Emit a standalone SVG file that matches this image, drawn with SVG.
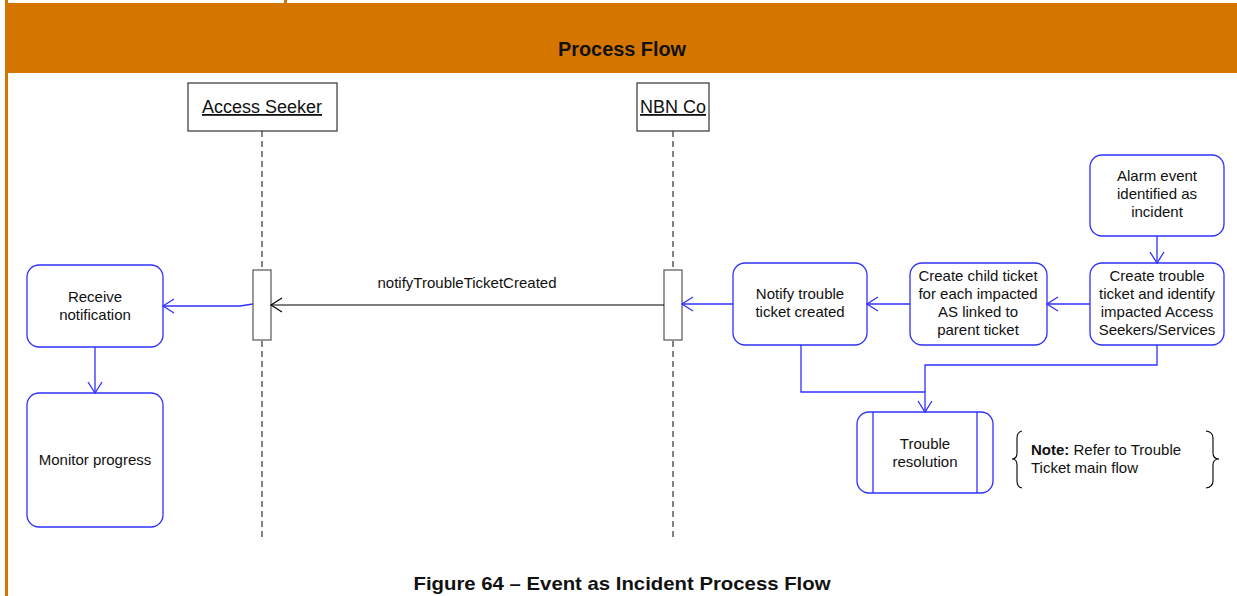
<svg xmlns="http://www.w3.org/2000/svg" width="1237" height="596" viewBox="0 0 1237 596">
<defs>
<style>
.orange{fill:#d47500}
.node{fill:#fff;stroke:#3030ff;stroke-width:1.3}
.life{fill:#fff;stroke:#333;stroke-width:1.2}
.act{fill:#fff;stroke:#555;stroke-width:1.2}
.dash{stroke:#333;stroke-width:1.2;stroke-dasharray:6,4;fill:none}
.conn{fill:none;stroke:#3030ff;stroke-width:1.3}
.msg{fill:none;stroke:#000;stroke-width:1.2}
.brace{fill:none;stroke:#000;stroke-width:1.1}
text{font-family:"Liberation Sans",Arial,sans-serif;fill:#111}
.t{font-size:15px;text-anchor:middle}
.hdr{font-size:18px;text-anchor:middle;text-decoration:underline}
.bold{font-weight:bold}
</style>
<marker id="ab" markerUnits="userSpaceOnUse" markerWidth="14" markerHeight="16" refX="12" refY="8" orient="auto">
<path d="M1,1 L12,8 L1,15" fill="none" stroke="#3030ff" stroke-width="1.3"/>
</marker>
<marker id="ak" markerUnits="userSpaceOnUse" markerWidth="14" markerHeight="16" refX="12" refY="8" orient="auto">
<path d="M1,1 L12,8 L1,15" fill="none" stroke="#000" stroke-width="1.2"/>
</marker>
</defs>
<rect width="1237" height="596" fill="#fff"/>
<g id="frame">
<rect class="orange" x="5" y="0" width="3" height="596"/>
<rect class="orange" x="284" y="0" width="3" height="4"/>
<rect class="orange" x="5" y="3" width="1232" height="70"/>
<text x="622" y="56" class="bold" font-size="20" text-anchor="middle" textLength="128" lengthAdjust="spacingAndGlyphs" fill="#000">Process Flow</text>
<text x="622" y="590" class="bold" font-size="19" text-anchor="middle" textLength="417" lengthAdjust="spacingAndGlyphs" fill="#000">Figure 64 – Event as Incident Process Flow</text>
</g>
<g id="lifeline-as">
<rect class="life" x="188" y="83" width="149" height="48"/>
<text class="hdr" x="262" y="113">Access Seeker</text>
<line class="dash" x1="262" y1="131" x2="262" y2="540"/>
<rect class="act" x="253" y="270" width="18" height="70"/>
</g>
<g id="lifeline-nbn">
<rect class="life" x="637" y="83" width="72" height="48"/>
<text class="hdr" x="673" y="113">NBN Co</text>
<line class="dash" x1="673" y1="131" x2="673" y2="540"/>
<rect class="act" x="664" y="270" width="18" height="70"/>
</g>
<g id="n-receive">
<rect class="node" x="27" y="265" width="136" height="82" rx="12"/>
<text class="t" x="95" y="302">Receive</text>
<text class="t" x="95" y="320">notification</text>
</g>
<g id="n-monitor">
<rect class="node" x="27" y="393" width="136" height="134" rx="12"/>
<text class="t" x="95" y="465">Monitor progress</text>
</g>
<g id="n-notify">
<rect class="node" x="733" y="263" width="134" height="82" rx="12"/>
<text class="t" x="800" y="299">Notify trouble</text>
<text class="t" x="800" y="317">ticket created</text>
</g>
<g id="n-child">
<rect class="node" x="910" y="263" width="137" height="82" rx="12"/>
<text class="t" x="978" y="281">Create child ticket</text>
<text class="t" x="978" y="299">for each impacted</text>
<text class="t" x="978" y="317">AS linked to</text>
<text class="t" x="978" y="335">parent ticket</text>
</g>
<g id="n-create">
<rect class="node" x="1090" y="263" width="134" height="82" rx="12"/>
<text class="t" x="1157" y="281">Create trouble</text>
<text class="t" x="1157" y="299">ticket and identify</text>
<text class="t" x="1157" y="317">impacted Access</text>
<text class="t" x="1157" y="335">Seekers/Services</text>
</g>
<g id="n-alarm">
<rect class="node" x="1090" y="155" width="134" height="81" rx="12"/>
<text class="t" x="1157" y="181">Alarm event</text>
<text class="t" x="1157" y="199">identified as</text>
<text class="t" x="1157" y="217">incident</text>
</g>
<g id="n-resolution">
<rect class="node" x="857" y="412" width="136" height="81" rx="12"/>
<line class="conn" x1="873" y1="412" x2="873" y2="493"/>
<line class="conn" x1="977" y1="412" x2="977" y2="493"/>
<text class="t" x="925" y="449">Trouble</text>
<text class="t" x="925" y="467">resolution</text>
</g>
<g id="note">
<path class="brace" d="M1022,431 Q1017,432 1017,438 L1017,453 Q1017,459 1012,459 Q1017,459 1017,465 L1017,481 Q1017,487 1022,488"/>
<path class="brace" d="M1206,431 Q1213,432 1213,438 L1213,453 Q1213,459 1219,459 Q1213,459 1213,465 L1213,481 Q1213,487 1206,488"/>
<text x="1031" y="455" font-size="15"><tspan font-weight="bold">Note:</tspan> Refer to Trouble</text>
<text x="1031" y="473" font-size="15">Ticket main flow</text>
</g>
<g id="connectors">
<line class="conn" x1="1157" y1="236" x2="1157" y2="263" marker-end="url(#ab)"/>
<line class="conn" x1="1090" y1="304" x2="1047" y2="304" marker-end="url(#ab)"/>
<line class="conn" x1="910" y1="304" x2="867" y2="304" marker-end="url(#ab)"/>
<polyline class="conn" points="733,304 713,304 713,304 682,304" marker-end="url(#ab)"/>
<line class="msg" x1="664" y1="305" x2="271" y2="305" marker-end="url(#ak)"/>
<text class="t" x="467" y="288">notifyTroubleTicketCreated</text>
<polyline class="conn" points="253,304 240,306 163,306" marker-end="url(#ab)"/>
<line class="conn" x1="95" y1="347" x2="95" y2="393" marker-end="url(#ab)"/>
<polyline class="conn" points="801,345 801,392 925,392 925,412" marker-end="url(#ab)"/>
<polyline class="conn" points="1157,345 1157,365 925,365 925,392"/>
</g>
</svg>
